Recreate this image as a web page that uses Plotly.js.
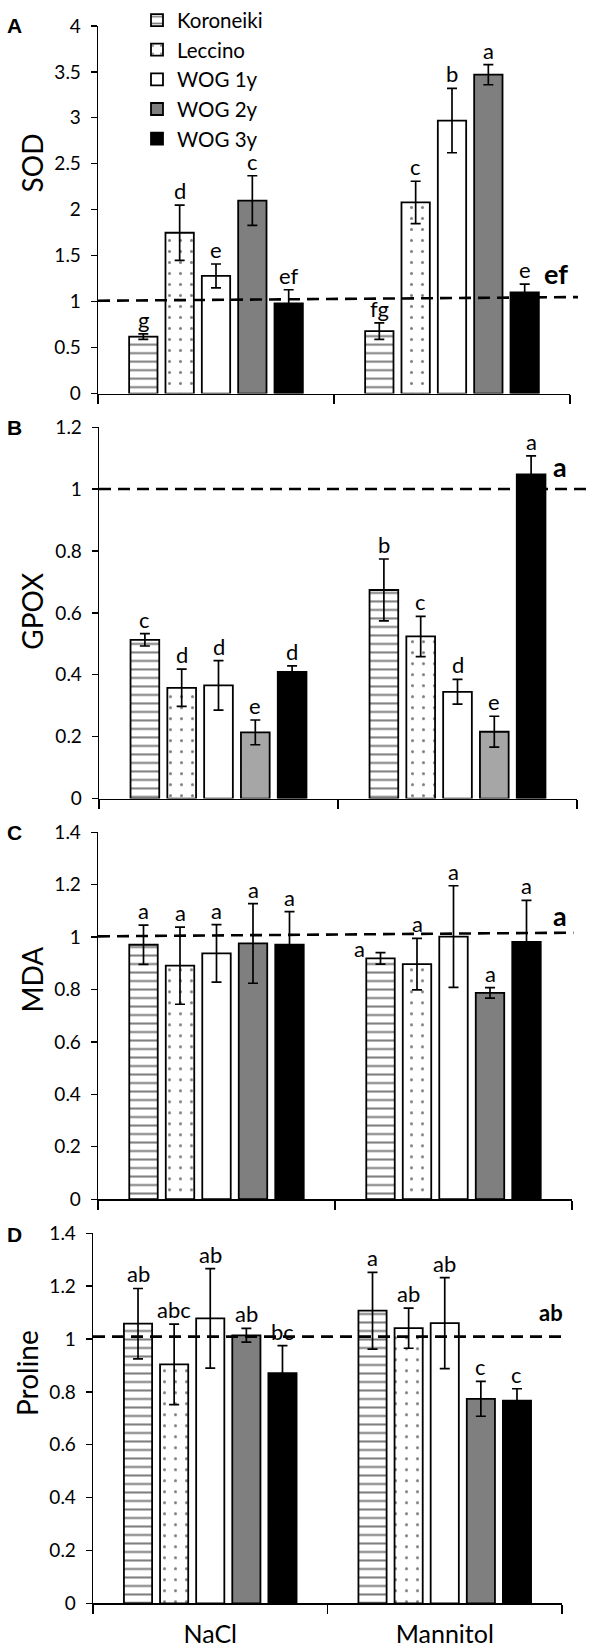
<!DOCTYPE html>
<html>
<head>
<meta charset="utf-8">
<script src="https://cdn.plot.ly/plotly-3.0.1.min.js"></script>
<style>html,body{margin:0;padding:0;background:#fff}#chart{width:593px;height:1652px}</style>
</head>
<body>
<div id="chart"></div>
<script>
// ---------- data ----------
const categories = ['NaCl', 'Mannitol'];
const cultivars = ['Koroneiki', 'Leccino', 'WOG 1y', 'WOG 2y', 'WOG 3y'];

// SOD (panel A)
const sodNaCl = [0.62, 1.75, 1.28, 2.10, 0.98];
const sodNaClErr = [0.03, 0.30, 0.13, 0.27, 0.15];
const sodMannitol = [0.68, 2.08, 2.97, 3.47, 1.10];
const sodMannitolErr = [0.09, 0.23, 0.35, 0.11, 0.09];
const sodNaClLetters = ['g', 'd', 'e', 'c', 'ef'];
const sodMannitolLetters = ['fg', 'c', 'b', 'a', 'e'];
const sodRefLine = [1.01, 1.05];
const sodRefLetter = 'ef';

// GPOX (panel B)
const gpoxNaCl = [0.513, 0.358, 0.366, 0.214, 0.409];
const gpoxNaClErr = [0.02, 0.06, 0.08, 0.04, 0.02];
const gpoxMannitol = [0.674, 0.524, 0.345, 0.216, 1.047];
const gpoxMannitolErr = [0.10, 0.065, 0.04, 0.05, 0.06];
const gpoxNaClLetters = ['c', 'd', 'd', 'e', 'd'];
const gpoxMannitolLetters = ['b', 'c', 'd', 'e', 'a'];
const gpoxRefLine = [1.0, 1.0];
const gpoxRefLetter = 'a';

// MDA (panel C)
const mdaNaCl = [0.971, 0.891, 0.938, 0.976, 0.971];
const mdaNaClErr = [0.075, 0.147, 0.11, 0.152, 0.126];
const mdaMannitol = [0.919, 0.897, 1.002, 0.787, 0.982];
const mdaMannitolErr = [0.022, 0.098, 0.194, 0.02, 0.158];
const mdaNaClLetters = ['a', 'a', 'a', 'a', 'a'];
const mdaMannitolLetters = ['a', 'a', 'a', 'a', 'a'];
const mdaRefLine = [1.003, 1.017];
const mdaRefLetter = 'a';

// Proline (panel D)
const prolineNaCl = [1.058, 0.904, 1.078, 1.014, 0.871];
const prolineNaClErr = [0.133, 0.152, 0.188, 0.026, 0.104];
const prolineMannitol = [1.107, 1.041, 1.060, 0.774, 0.767];
const prolineMannitolErr = [0.145, 0.076, 0.172, 0.066, 0.045];
const prolineNaClLetters = ['ab', 'abc', 'ab', 'ab', 'bc'];
const prolineMannitolLetters = ['a', 'ab', 'ab', 'c', 'c'];
const prolineRefLine = [1.009, 1.009];
const prolineRefLetter = 'ab';

const yTitles = ['SOD', 'GPOX', 'MDA', 'Proline'];
const panelLetters = ['A', 'B', 'C', 'D'];
const yMax = [4, 1.2, 1.4, 1.4];
const yStep = [0.5, 0.2, 0.2, 0.2];

// ---------- layout geometry (pixels) ----------
const W = 593, H = 1652;
const FONT = 'Lato, "Open Sans", sans-serif';
const panels = [
  {l: 98, r: 570, t: 20, b: 389, gray: '#7f7f7f', refEnd: 1.017, refLab: [0.970, 1.31], refLabSize: 27, titleX: 32, titleY: 158, letterY: 20},
  {l: 99, r: 577, t: 422.7, b: 795.5, gray: '#a6a6a6', refEnd: 1.023, refLab: [0.965, 1.073], refLabSize: 27, titleX: 32, titleY: 608, letterY: 423},
  {l: 98, r: 572, t: 829.3, b: 1197.6, gray: '#7f7f7f', refEnd: 1.003, refLab: [0.975, 1.082], refLabSize: 27, titleX: 32, titleY: 977, letterY: 830},
  {l: 93, r: 562, t: 1231.7, b: 1603.3, gray: '#7f7f7f', refEnd: 1.012, refLab: [0.976, 1.10], refLabSize: 22, titleX: 27, titleY: 1372, letterY: 1233}
];

const panelData = [
  [sodNaCl, sodNaClErr, sodMannitol, sodMannitolErr, sodNaClLetters, sodMannitolLetters, sodRefLine, sodRefLetter],
  [gpoxNaCl, gpoxNaClErr, gpoxMannitol, gpoxMannitolErr, gpoxNaClLetters, gpoxMannitolLetters, gpoxRefLine, gpoxRefLetter],
  [mdaNaCl, mdaNaClErr, mdaMannitol, mdaMannitolErr, mdaNaClLetters, mdaMannitolLetters, mdaRefLine, mdaRefLetter],
  [prolineNaCl, prolineNaClErr, prolineMannitol, prolineMannitolErr, prolineNaClLetters, prolineMannitolLetters, prolineRefLine, prolineRefLetter]
];

const bargap = 0.23, bargroupgap = 0.22;
const slot = (1 - bargap) / cultivars.length;

function markerFor(i, gray) {
  const line = {color: 'black', width: 1.8};
  if (i === 0) return {color: 'white', line, pattern: {shape: '-', fgcolor: 'black', bgcolor: 'white', size: 8.5, solidity: 0.24, fillmode: 'overlay'}};
  if (i === 1) return {color: 'white', line, pattern: {shape: '.', fgcolor: 'black', bgcolor: 'white', size: 11, solidity: 0.06, fillmode: 'overlay'}};
  if (i === 2) return {color: 'white', line};
  if (i === 3) return {color: gray, line};
  return {color: 'black', line};
}

const traces = [];
const annotations = [];
const shapes = [];
const layout = {
  width: W, height: H,
  margin: {l: 0, r: 0, t: 0, b: 0},
  paper_bgcolor: 'white', plot_bgcolor: 'white',
  barmode: 'group', bargap, bargroupgap,
  font: {family: FONT, color: 'black'},
  showlegend: true,
  legend: {x: 137 / W, y: 1.0035, xanchor: 'left', yanchor: 'top', font: {family: FONT, size: 20.5, color: 'black'},
           bgcolor: 'rgba(0,0,0,0)', traceorder: 'normal', tracegroupgap: 0}
};

panels.forEach((p, k) => {
  const sfx = k === 0 ? '' : String(k + 1);
  const xa = 'x' + sfx, ya = 'y' + sfx;
  const [nv, ne, mv, me, nl, ml, ref, refLetter] = panelData[k];
  const xdom = [p.l / W, p.r / W];
  const ydom = [1 - p.b / H, 1 - p.t / H];

  cultivars.forEach((name, i) => {
    traces.push({
      type: 'bar', name, x: categories, y: [nv[i], mv[i]],
      xaxis: xa, yaxis: ya,
      marker: markerFor(i, p.gray),
      error_y: {type: 'data', array: [ne[i], me[i]], visible: true, color: 'black', thickness: 1.7, width: 5},
      legendgroup: name, showlegend: k === 0, hoverinfo: 'skip'
    });
    // letters above bars
    [[nl, nv, ne, 0], [ml, mv, me, 1]].forEach(([lets, vals, errs, ci]) => {
      const ann = {
        xref: xa, yref: ya, x: ci + (i - 2) * slot, y: vals[i] + errs[i],
        text: lets[i], showarrow: false, yanchor: 'bottom', xanchor: 'center', borderpad: 0,
        font: {family: FONT, size: 22, color: 'black'}
      };
      if (k === 2 && ci === 1 && i === 0) { ann.xshift = -21; ann.yanchor = 'middle'; ann.yshift = 4; }
      annotations.push(ann);
    });
  });

  layout['xaxis' + sfx] = {
    domain: xdom, anchor: ya, type: 'category', categoryarray: categories, categoryorder: 'array',
    range: [-0.5, 1.5], tickson: 'boundaries', ticks: 'outside', ticklen: 9, tickwidth: 1.3, tickcolor: 'black',
    showline: true, linecolor: 'black', linewidth: 1.3, showgrid: false, zeroline: false,
    showticklabels: k === 3, tickfont: {family: FONT, size: 25, color: 'black'}, ticklabelstandoff: 8,
    fixedrange: true
  };
  layout['yaxis' + sfx] = {
    domain: ydom, anchor: xa, range: [0, yMax[k]], dtick: yStep[k], tick0: 0,
    ticks: 'outside', ticklen: 6, tickwidth: 1.3, tickcolor: 'black',
    showline: true, linecolor: 'black', linewidth: 1.3, showgrid: false, zeroline: false,
    tickfont: {family: FONT, size: 19, color: 'black'}, ticklabelstandoff: 6, fixedrange: true
  };
  // overlay axis to draw the upper half of the crossing tick marks
  const ox = 'xaxis' + (k + 5);
  layout[ox] = {
    overlaying: xa, anchor: ya, type: 'linear', range: [-0.5, 1.5],
    tickmode: 'array', tickvals: [-0.5, 0.5, 1.5], ticks: 'inside', ticklen: 9, tickwidth: 1.3, tickcolor: 'black',
    showline: false, showgrid: false, zeroline: false, showticklabels: false, fixedrange: true
  };

  // dashed reference line (control = 1)
  shapes.push({type: 'line', xref: xa + ' domain', yref: ya, x0: 0, x1: p.refEnd, y0: ref[0], y1: ref[1],
               line: {color: 'black', width: 2.6, dash: '12px,7px'}});
  // bold letter of the control
  annotations.push({xref: xa + ' domain', yref: ya, x: p.refLab[0], y: p.refLab[1], text: '<b>' + refLetter + '</b>',
                    showarrow: false, xanchor: 'center', yanchor: 'middle',
                    font: {family: FONT, size: p.refLabSize, color: 'black'}});
  // y title
  annotations.push({xref: 'paper', yref: 'paper', x: p.titleX / W, y: 1 - p.titleY / H, text: yTitles[k],
                    textangle: -90, showarrow: false, xanchor: 'center', yanchor: 'middle',
                    font: {family: FONT, size: 28, color: 'black'}});
  // panel letter
  annotations.push({xref: 'paper', yref: 'paper', x: 14 / W, y: 1 - p.letterY / H, text: '<b>' + panelLetters[k] + '</b>',
                    showarrow: false, xanchor: 'center', yanchor: 'middle',
                    font: {family: '"Liberation Sans", Arial, sans-serif', size: 21, color: 'black'}});
});

layout.annotations = annotations;
layout.shapes = shapes;

Plotly.newPlot('chart', traces, layout, {displayModeBar: false, staticPlot: true});
</script>
</body>
</html>
